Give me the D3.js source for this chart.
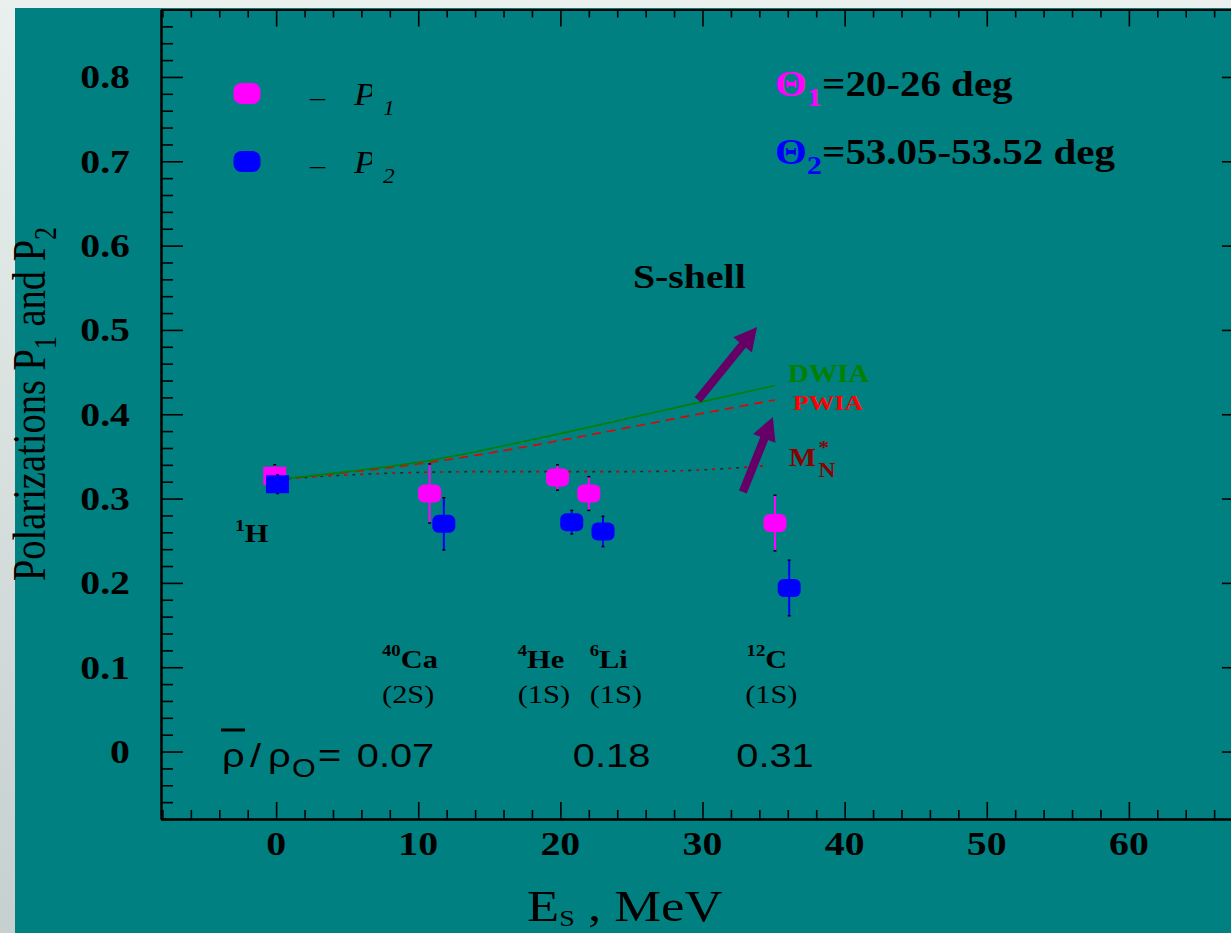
<!DOCTYPE html>
<html>
<head>
<meta charset="utf-8">
<script src="https://cdn.jsdelivr.net/npm/d3@7"></script>
<style>
  html, body { margin: 0; padding: 0; overflow: hidden; background: #dfe7e5; }
  svg { display: block; }
</style>
</head>
<body>
<svg id="chart" width="1231" height="933"></svg>
<script>
// ---- measured polarizations for each nucleus ----
const massNumbers = ["1", "40", "4", "6", "12"];
const symbols     = ["H", "Ca", "He", "Li", "C"];
const shells      = ["", "(2S)", "(1S)", "(1S)", "(1S)"];

// Theta1 = 20-26 deg (P1)
const esP1  = [-0.1, 10.8, 19.8, 22.0, 35.1];
const valP1 = [0.327, 0.306, 0.325, 0.306, 0.271];
const errP1 = [0.013, 0.035, 0.015, 0.020, 0.033];

// Theta2 = 53.05-53.52 deg (P2)
const esP2  = [0.1, 11.8, 20.8, 23.0, 36.1];
const valP2 = [0.317, 0.270, 0.272, 0.261, 0.194];
const errP2 = [0.011, 0.031, 0.014, 0.018, 0.033];

// ---- model calculations ----
const modelEs = [0.3, 5, 10, 15, 20, 25, 30, 35.1];
const dwia    = [0.323, 0.332, 0.343, 0.359, 0.377, 0.396, 0.415, 0.434];
const pwia    = [0.323, 0.331, 0.341, 0.354, 0.369, 0.385, 0.401, 0.417];
const mnEs    = [0.3, 5, 10, 15, 20, 25, 30, 34.5];
const mnStar  = [0.323, 0.328, 0.331, 0.332, 0.332, 0.332, 0.334, 0.339];

// ---- mean density for the groups of nuclei ----
const densityLabels = ["0.07", "0.18", "0.31"];
const densityEs     = [8.4, 23.6, 35.1];

// ---- axis ticks ----
const xTickValues = [0, 10, 20, 30, 40, 50, 60];
const xTickLabels = ["0", "10", "20", "30", "40", "50", "60"];
const yTickValues = [0, 0.1, 0.2, 0.3, 0.4, 0.5, 0.6, 0.7, 0.8];
const yTickLabels = ["0", "0.1", "0.2", "0.3", "0.4", "0.5", "0.6", "0.7", "0.8"];

const W = 1231, H = 933;
const SERIF = "'Liberation Serif', 'Times New Roman', serif";
const SANS = "'Liberation Sans', Arial, sans-serif";
const SX = 1.17;   // horizontal stretch of the lettering
const MAGENTA = "#ff00ff", BLUE = "#0000ff", TEAL = "#008080", PURPLE = "#660066";

const svg = d3.select("#chart");

// page backdrop and panel
const defs = svg.append("defs");
const grad = defs.append("linearGradient").attr("id", "backdrop")
  .attr("x1", 0).attr("y1", 0).attr("x2", 0).attr("y2", 1);
grad.append("stop").attr("offset", "0%").attr("stop-color", "#e9f0ee");
grad.append("stop").attr("offset", "100%").attr("stop-color", "#c6d0ce");
svg.append("rect").attr("width", W).attr("height", H).attr("fill", "url(#backdrop)");
svg.append("rect").attr("x", 15).attr("y", 8).attr("width", W - 15).attr("height", H - 8).attr("fill", TEAL);

// scales
const x = d3.scaleLinear().domain([-8.1, 68.1]).range([161, 1244]);
const y = d3.scaleLinear().domain([-0.08, 0.88]).range([819, 9.5]);

// text helper: stretched lettering with optional sub/superscript parts
function label(parent, px, py, parts, o = {}) {
  const t = parent.append("text")
    .attr("transform", `translate(${px},${py}) scale(${o.sx ?? SX},1)`)
    .attr("font-family", o.family || SERIF)
    .attr("font-size", o.size || 30)
    .attr("font-weight", o.weight || "normal")
    .attr("font-style", o.italic ? "italic" : "normal")
    .attr("fill", o.fill || "#000")
    .attr("text-anchor", o.anchor || "start");
  let prev = 0;
  parts.forEach(p => {
    const part = typeof p === "string" ? { text: p } : p;
    const shift = part.shift || 0;
    const s = t.append("tspan").text(part.text).attr("dy", shift - prev);
    if (part.dx) s.attr("dx", part.dx);
    if (part.size) s.attr("font-size", part.size);
    if (part.fill) s.attr("fill", part.fill);
    if (part.weight) s.attr("font-weight", part.weight);
    prev = shift;
  });
  return t;
}

// ---- axes (ticks pointing inward on all four sides) ----
const xMinor = d3.range(-8, 69, 2).filter(v => v % 10 !== 0);
const yMinor = d3.range(-4, 45, 1).map(v => v * 0.02).filter(v => Math.abs(Math.round(v * 10) - v * 10) > 1e-6);

function drawAxis(axisGen, transform, values, size) {
  const g = svg.append("g").attr("transform", transform)
    .call(axisGen.tickValues(values).tickSize(-size).tickSizeOuter(0).tickFormat(""));
  g.select(".domain").attr("stroke", "#000").attr("stroke-width", 2);
  g.selectAll(".tick line").attr("stroke", "#000").attr("stroke-width", 1.6);
  return g;
}
drawAxis(d3.axisBottom(x), `translate(0,${y.range()[0]})`, xMinor, 9);
drawAxis(d3.axisBottom(x), `translate(0,${y.range()[0]})`, xTickValues, 17);
drawAxis(d3.axisTop(x), `translate(0,${y.range()[1]})`, xMinor, 8);
drawAxis(d3.axisTop(x), `translate(0,${y.range()[1]})`, xTickValues, 17);
drawAxis(d3.axisLeft(y), `translate(${x.range()[0]},0)`, yMinor, 12);
drawAxis(d3.axisLeft(y), `translate(${x.range()[0]},0)`, yTickValues, 22);
drawAxis(d3.axisRight(y), `translate(${x.range()[1]},0)`, yMinor, 12);
drawAxis(d3.axisRight(y), `translate(${x.range()[1]},0)`, yTickValues, 22);

// tick labels
const tickG = svg.append("g");
xTickValues.forEach((v, i) => {
  label(tickG, x(v), 855, [xTickLabels[i]], { size: 34, weight: "bold", anchor: "middle" });
});
yTickValues.forEach((v, i) => {
  label(tickG, 130, y(v) + 11.5, [yTickLabels[i]], { size: 34, weight: "bold", anchor: "end" });
});

// axis titles
svg.append("g").attr("transform", "translate(45,404) rotate(-90) scale(1,1.18)")
  .append("text")
  .attr("font-family", SERIF).attr("font-size", 38.5).attr("text-anchor", "middle").attr("fill", "#000")
  .call(t => {
    t.append("tspan").text("Polarizations P");
    t.append("tspan").text("1").attr("font-size", 26).attr("dy", 9);
    t.append("tspan").text(" and P").attr("dy", -9);
    t.append("tspan").text("2").attr("font-size", 26).attr("dy", 9);
  });
label(svg, 527, 921, ["E", { text: "S", size: 24, shift: 5 }, { text: " , MeV", shift: 0 }], { size: 45 });

// ---- model curves ----
const lineGen = d3.line().x(d => x(d[0])).y(d => y(d[1])).curve(d3.curveMonotoneX);
const curves = svg.append("g").attr("fill", "none");
curves.append("path").datum(mnEs.map((e, i) => [e, mnStar[i]]))
  .attr("d", lineGen).attr("stroke", "#c80000").attr("stroke-width", 1.6).attr("stroke-dasharray", "3,13");
curves.append("path").datum(mnEs.map((e, i) => [e, mnStar[i]]))
  .attr("d", lineGen).attr("stroke", "#2a2a2a").attr("stroke-width", 1.6)
  .attr("stroke-dasharray", "3,13").attr("stroke-dashoffset", -8);
curves.append("path").datum(modelEs.map((e, i) => [e, pwia[i]]))
  .attr("d", lineGen).attr("stroke", "#e60000").attr("stroke-width", 1.6).attr("stroke-dasharray", "9,6");
curves.append("path").datum(modelEs.map((e, i) => [e, dwia[i]]))
  .attr("d", lineGen).attr("stroke", "#008000").attr("stroke-width", 1.6);

// curve labels
label(svg, 788, 382, ["DWIA"], { size: 24.5, weight: "bold", fill: "#008000" });
label(svg, 793, 410, ["PWIA"], { size: 22, weight: "bold", fill: "#ff0000" });
label(svg, 789, 466, ["M", { text: "*", size: 18, shift: -12, dx: 2 }, { text: "N", size: 20, shift: 11, dx: -9 }],
  { size: 24.5, weight: "bold", fill: "#8b0000" });
label(svg, 633, 288, ["S-shell"], { size: 34, weight: "bold" });

// ---- arrows pointing toward increasing density ----
const arrows = [
  { from: [29.68, 0.417], to: [33.84, 0.5035] },
  { from: [32.84, 0.3078], to: [34.95, 0.3967] }
];
arrows.forEach(a => {
  const x0 = x(a.from[0]), y0 = y(a.from[1]), x1 = x(a.to[0]), y1 = y(a.to[1]);
  const len = Math.hypot(x1 - x0, y1 - y0);
  const ux = (x1 - x0) / len, uy = (y1 - y0) / len, nx = -uy, ny = ux;
  const hl = 23, hw = 12, sw = 4.2;
  const bx = x1 - ux * hl, by = y1 - uy * hl;
  const pts = [
    [x0 + nx * sw, y0 + ny * sw], [bx + nx * sw, by + ny * sw], [bx + nx * hw, by + ny * hw],
    [x1, y1],
    [bx - nx * hw, by - ny * hw], [bx - nx * sw, by - ny * sw], [x0 - nx * sw, y0 - ny * sw]
  ];
  svg.append("polygon").attr("points", pts.map(p => p.join(",")).join(" ")).attr("fill", PURPLE);
});

// ---- data points with error bars ----
function drawSeries(es, vals, errs, color) {
  const g = svg.append("g");
  es.forEach((e, i) => {
    const cx = x(e), top = y(vals[i] + errs[i]), bot = y(vals[i] - errs[i]);
    g.append("line").attr("x1", cx).attr("x2", cx).attr("y1", top).attr("y2", bot)
      .attr("stroke", color).attr("stroke-width", 2);
    [top, bot].forEach(yy => g.append("line").attr("x1", cx - 1.5).attr("x2", cx + 1.5)
      .attr("y1", yy).attr("y2", yy).attr("stroke", "#000").attr("stroke-width", 1.5));
  });
  es.forEach((e, i) => {
    const first = i === 0; // free proton drawn as a square
    g.append("rect").attr("x", x(e) - 11.5).attr("y", y(vals[i]) - 9)
      .attr("width", 23).attr("height", 18).attr("rx", first ? 0 : 6)
      .attr("fill", color);
  });
}
drawSeries(esP1, valP1, errP1, MAGENTA);
drawSeries(esP2, valP2, errP2, BLUE);

// ---- nucleus labels ----
const nucleusLabelEs = [-2.9, 7.45, 17.0, 22.06, 33.1];
const shellLabelEs   = [null, 7.45, 17.0, 22.06, 33.0];
const nucG = svg.append("g");
symbols.forEach((s, i) => {
  if (i === 0) {
    label(nucG, x(nucleusLabelEs[i]), 542,
      [{ text: massNumbers[i], size: 17, shift: -11 }, { text: s, shift: 0 }], { size: 26, weight: "bold" });
    return;
  }
  label(nucG, x(nucleusLabelEs[i]), 668,
    [{ text: massNumbers[i], size: 16, shift: -12 }, { text: s, shift: 0 }], { size: 26, weight: "bold" });
  label(nucG, x(shellLabelEs[i]), 703, [shells[i]], { size: 26 });
});

// ---- mean density relative to nuclear matter ----
const densG = svg.append("g");
label(densG, 222, 767, ["\u03c1"], { family: SANS, size: 34 });
densG.append("line").attr("x1", 221).attr("x2", 245).attr("y1", 730).attr("y2", 730)
  .attr("stroke", "#000").attr("stroke-width", 3);
label(densG, 250, 767, ["/"], { family: SANS, size: 34 });
label(densG, 268, 767, ["\u03c1"], { family: SANS, size: 34 });
label(densG, 292, 777, ["O"], { family: SANS, size: 26 });
label(densG, 318, 767, ["="], { family: SANS, size: 34 });
densityLabels.forEach((d, i) => {
  label(densG, x(densityEs[i]), 767, [d], { family: SANS, size: 34, anchor: "middle" });
});

// ---- legend ----
const legend = svg.append("g");
const legendRows = [
  { color: MAGENTA, sub: "1", cy: 93.5, theta: "=20-26 deg", base: 96 },
  { color: BLUE, sub: "2", cy: 161.5, theta: "=53.05-53.52 deg", base: 164 }
];
legendRows.forEach((r, i) => {
  legend.append("rect").attr("x", 233.5).attr("y", r.cy - 10.5).attr("width", 27).attr("height", 21)
    .attr("rx", 8).attr("fill", r.color);
  label(legend, 310, r.cy + 12, ["\u2013"], { size: 26 });
  const clipId = "pclip" + i;
  defs.append("clipPath").attr("id", clipId).append("rect")
    .attr("x", 350).attr("y", r.cy - 14).attr("width", 22).attr("height", 40);
  label(legend.append("g").attr("clip-path", `url(#${clipId})`), 354, r.cy + 11, ["P"], { size: 31, italic: true });
  label(legend, 383, r.cy + 21, [r.sub], { size: 20, italic: true });
  // angle ranges
  label(legend, 775, r.base, [{ text: "\u0398", fill: r.color }, { text: r.sub, size: 26, fill: r.color, shift: 10 },
    { text: r.theta, shift: 0 }], { size: 35, weight: "bold" });
});
</script>
</body>
</html>
